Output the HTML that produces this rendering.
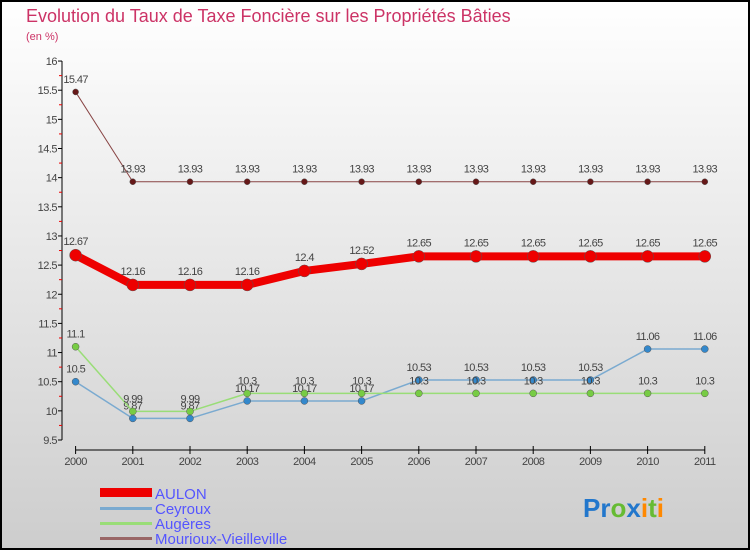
<!DOCTYPE html>
<html><head><meta charset="utf-8"><style>
body{margin:0;width:750px;height:550px;overflow:hidden;font-family:"Liberation Sans",sans-serif}
</style></head><body>
<svg width="750" height="550" xmlns="http://www.w3.org/2000/svg">
<defs><linearGradient id="bg" x1="0" y1="0" x2="0" y2="1"><stop offset="0" stop-color="#ffffff"/><stop offset="1" stop-color="#cdcdcd"/></linearGradient></defs>
<rect x="1" y="1" width="748" height="548" fill="url(#bg)" stroke="#000" stroke-width="2"/>
<text x="26" y="22" font-size="18" fill="#cc3366">Evolution du Taux de Taxe Foncière sur les Propriétés Bâties</text>
<text x="26" y="40" font-size="11" fill="#cc3366">(en %)</text>
<g id="axes"></g><g id="series"></g>
<g>
<rect x="100" y="488" width="52" height="9" fill="#ee0000"/>
<text x="155" y="499" font-size="15" fill="#5555ff">AULON</text>
<rect x="100" y="507" width="52" height="3" fill="#7aaad0"/>
<text x="155" y="514" font-size="15" fill="#5555ff">Ceyroux</text>
<rect x="100" y="522" width="52" height="3" fill="#99dd77"/>
<text x="155" y="529" font-size="15" fill="#5555ff">Augères</text>
<rect x="100" y="537" width="52" height="3" fill="#996666"/>
<text x="155" y="544" font-size="15" fill="#5555ff">Mourioux-Vieilleville</text>
</g>
<text x="583" y="517" font-size="26" font-weight="bold"><tspan fill="#2277cc">Pr</tspan><tspan fill="#66bb33">o</tspan><tspan fill="#2277cc">x</tspan><tspan fill="#ff8800">i</tspan><tspan fill="#66bb33">t</tspan><tspan fill="#ff8800">i</tspan></text>
</svg>
<script>
const years=["2000","2001","2002","2003","2004","2005","2006","2007","2008","2009","2010","2011"];
const yTicks=[9.5,10,10.5,11,11.5,12,12.5,13,13.5,14,14.5,15,15.5,16];
const aulon=[12.67,12.16,12.16,12.16,12.4,12.52,12.65,12.65,12.65,12.65,12.65,12.65];
const ceyroux=[10.5,9.87,9.87,10.17,10.17,10.17,10.53,10.53,10.53,10.53,11.06,11.06];
const augeres=[11.1,9.99,9.99,10.3,10.3,10.3,10.3,10.3,10.3,10.3,10.3,10.3];
const mourioux=[15.47,13.93,13.93,13.93,13.93,13.93,13.93,13.93,13.93,13.93,13.93,13.93];
const NS="http://www.w3.org/2000/svg";
const X=i=>75.6+i*57.2;
const Y=v=>440-(v-9.5)*58.3;
function mk(t,a,p){const e=document.createElementNS(NS,t);for(const k in a)e.setAttribute(k,a[k]);p.appendChild(e);return e;}
const ax=document.getElementById('axes');
let l=mk('line',{x1:62,y1:Y(16),x2:62,y2:Y(9.5),stroke:'#000'},ax);


yTicks.forEach((v,i)=>{
  mk('line',{x1:58,x2:62,y1:Y(v),y2:Y(v),stroke:'#000'},ax);
  if(i<yTicks.length-1)mk('line',{x1:59,x2:62,y1:Y(v+0.25),y2:Y(v+0.25),stroke:'#e00'},ax);
  const t=mk('text',{x:57,y:Y(v)+4,'font-size':11,fill:'#444','text-anchor':'end','letter-spacing':'-0.5'},ax);
  t.textContent=String(v);
  
  
});
l=mk('line',{x1:X(0),y1:450,x2:X(11),y2:450,stroke:'#000'},ax);


years.forEach((y,i)=>{
  mk('line',{x1:X(i),x2:X(i),y1:446,y2:454,stroke:'#000'},ax);
  const t=mk('text',{x:X(i),y:465,'font-size':11,fill:'#444','text-anchor':'middle','letter-spacing':'-0.5'},ax);
  t.textContent=y;
  
  
});
const sg=document.getElementById('series');
function series(name,data,color,w,r,dotFill,labelDy){
  const g=mk('g',{},sg);
  
  
  const p=mk('polyline',{points:data.map((v,i)=>X(i)+','+Y(v)).join(' '),fill:'none',stroke:color,'stroke-width':w,'stroke-linejoin':'round'},g);
  
  
  data.forEach((v,i)=>{
    const c=mk('circle',{cx:X(i),cy:Y(v),r:r,fill:dotFill,stroke:'#555','stroke-width':0.5},g);
    
    
    const t=mk('text',{x:X(i),y:Y(v)+labelDy,'font-size':11,fill:'#444','text-anchor':'middle','letter-spacing':'-0.6'},g);
    t.textContent=String(v);
    
    
  });
}
series('mourioux',mourioux,'#884444',1,3,'#661818',-9);
series('ceyroux',ceyroux,'#7aaad0',1.5,3.5,'#3388cc',-9);
series('augeres',augeres,'#99dd77',1.5,3.5,'#77cc44',-9);
series('aulon',aulon,'#ee0000',8,6,'#ee0000',-10);
</script>
</body></html>
